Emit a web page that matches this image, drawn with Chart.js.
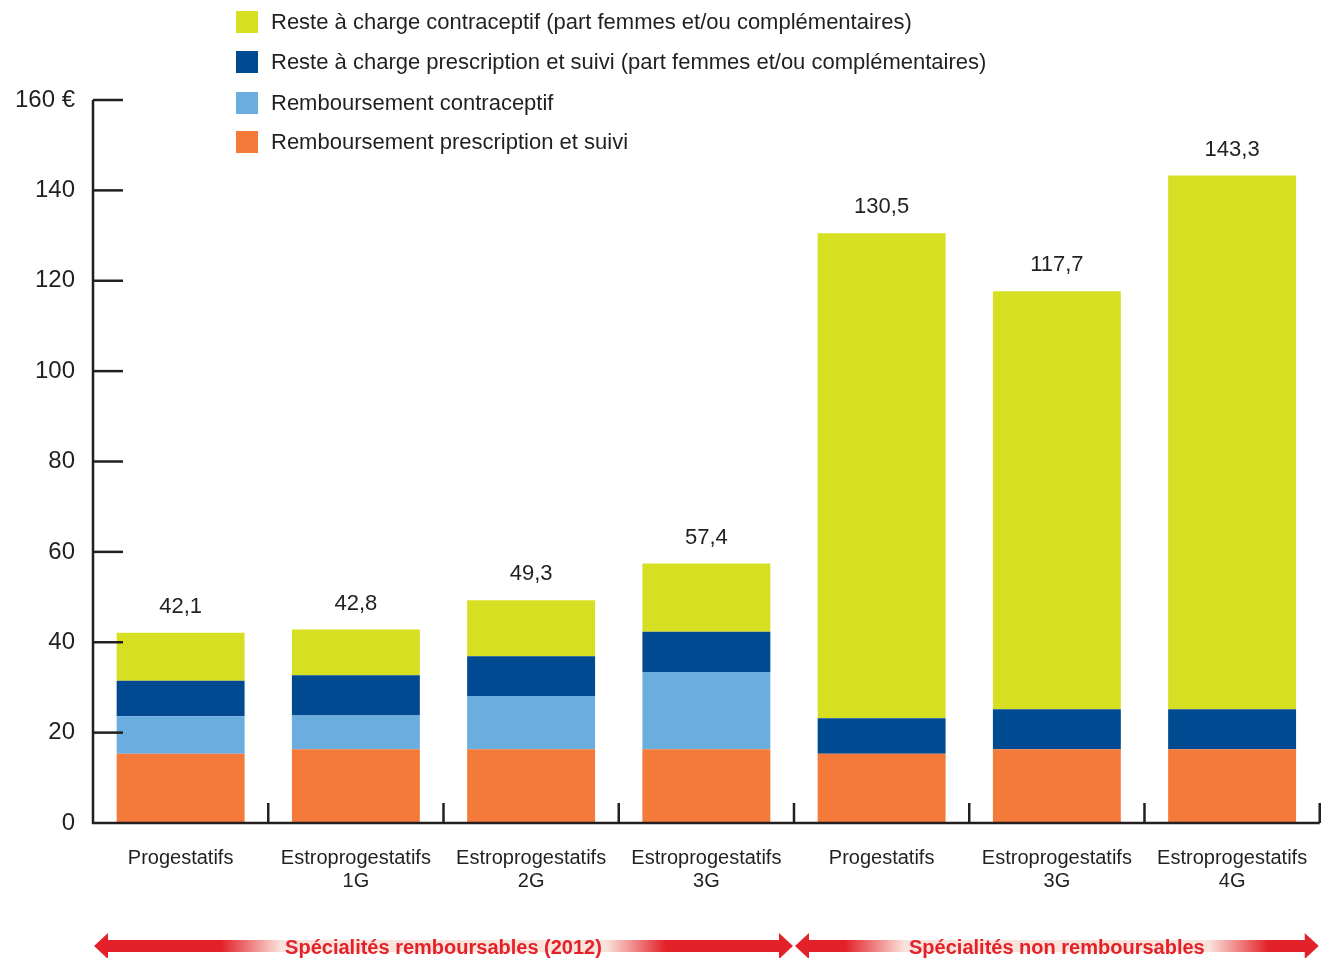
<!DOCTYPE html>
<html lang="fr">
<head>
    <meta charset="UTF-8">
    <title>Coût des contraceptifs</title>
    <script src="https://cdn.jsdelivr.net/npm/chart.js"></script>
    <style>
        html, body { margin: 0; padding: 0; background: #fff; }
        #wrap { position: relative; width: 1332px; height: 958px; }
    </style>
</head>
<body>
    <div id="wrap"><canvas id="chart" width="1332" height="958"></canvas></div>

    <script>
        // Data
        const categories = [
            'Progestatifs',
            ['Estroprogestatifs', '1G'],
            ['Estroprogestatifs', '2G'],
            ['Estroprogestatifs', '3G'],
            'Progestatifs',
            ['Estroprogestatifs', '3G'],
            ['Estroprogestatifs', '4G']
        ];
        const rembPrescription = [15.3, 16.3, 16.3, 16.3, 15.3, 16.3, 16.3];
        const rembContraceptif = [8.3, 7.5, 11.8, 17.1, 0, 0, 0];
        const restePrescription = [7.9, 8.9, 8.8, 8.9, 7.9, 8.9, 8.9];
        const resteContraceptif = [10.6, 10.1, 12.4, 15.1, 107.3, 92.5, 118.1];
        const totals = ['42,1', '42,8', '49,3', '57,4', '130,5', '117,7', '143,3'];
        const yTicks = [0, 20, 40, 60, 80, 100, 120, 140, 160];
        const groups = [
            { label: 'Spécialités remboursables (2012)', from: 0, to: 4 },
            { label: 'Spécialités non remboursables', from: 4, to: 7 }
        ];

        const colors = {
            yellow: '#d7df23',
            darkBlue: '#004a91',
            lightBlue: '#6aaddf',
            orange: '#f47a3a',
            red: '#e32128',
            ink: '#231f20'
        };

        const legendItems = [
            { text: 'Reste à charge contraceptif (part femmes et/ou complémentaires)', color: colors.yellow, y: 22 },
            { text: 'Reste à charge prescription et suivi (part femmes et/ou complémentaires)', color: colors.darkBlue, y: 62 },
            { text: 'Remboursement contraceptif', color: colors.lightBlue, y: 103 },
            { text: 'Remboursement prescription et suivi', color: colors.orange, y: 142 }
        ];

        const FONT = '"Liberation Sans", Arial, sans-serif';

        // custom drawing: axes, legend, totals, bottom arrows
        const decorations = {
            id: 'decorations',
            afterDatasetsDraw(chart) {
                const ctx = chart.ctx;
                const area = chart.chartArea;
                const y = chart.scales.y;
                ctx.save();

                // axes
                ctx.strokeStyle = colors.ink;
                ctx.lineWidth = 2.5;
                ctx.beginPath();
                ctx.moveTo(area.left, y.getPixelForValue(160));
                ctx.lineTo(area.left, area.bottom);
                ctx.lineTo(area.right, area.bottom);
                ctx.stroke();

                yTicks.forEach(v => {
                    if (v === 0) return;
                    const py = y.getPixelForValue(v);
                    ctx.beginPath();
                    ctx.moveTo(area.left, py);
                    ctx.lineTo(area.left + 30, py);
                    ctx.stroke();
                });

                const step = (area.right - area.left) / categories.length;
                for (let i = 1; i <= categories.length; i++) {
                    const px = area.left + step * i;
                    ctx.beginPath();
                    ctx.moveTo(px, area.bottom);
                    ctx.lineTo(px, area.bottom - 20);
                    ctx.stroke();
                }

                // totals above bars
                ctx.fillStyle = colors.ink;
                ctx.font = '22px ' + FONT;
                ctx.textAlign = 'center';
                ctx.textBaseline = 'middle';
                const meta = chart.getDatasetMeta(3);
                meta.data.forEach((bar, i) => {
                    ctx.fillText(totals[i], bar.x, bar.y - 26);
                });

                // legend
                ctx.textAlign = 'left';
                ctx.font = '22px ' + FONT;
                legendItems.forEach(item => {
                    ctx.fillStyle = item.color;
                    ctx.fillRect(236, item.y - 11, 22, 22);
                    ctx.fillStyle = colors.ink;
                    ctx.fillText(item.text, 271, item.y + 1);
                });

                // bottom arrows
                const ay = 946;
                groups.forEach(g => {
                    const x0 = area.left + step * g.from + 1;
                    const x1 = area.left + step * g.to - 1;
                    const cx = (x0 + x1) / 2;
                    ctx.font = 'bold 20px ' + FONT;
                    const tw = ctx.measureText(g.label).width;
                    const t0 = cx - tw / 2 - 4;
                    const t1 = cx + tw / 2 + 4;
                    const grad = ctx.createLinearGradient(x0, 0, x1, 0);
                    const f = v => Math.min(1, Math.max(0, (v - x0) / (x1 - x0)));
                    grad.addColorStop(0, colors.red);
                    grad.addColorStop(f(t0 - 60), colors.red);
                    grad.addColorStop(f(t0), '#fbe3dd');
                    grad.addColorStop(f(t1), '#fbe3dd');
                    grad.addColorStop(f(t1 + 60), colors.red);
                    grad.addColorStop(1, colors.red);
                    ctx.fillStyle = grad;
                    ctx.beginPath();
                    ctx.moveTo(x0, ay);
                    ctx.lineTo(x0 + 14, ay - 13);
                    ctx.lineTo(x0 + 14, ay - 6);
                    ctx.lineTo(x1 - 14, ay - 6);
                    ctx.lineTo(x1 - 14, ay - 13);
                    ctx.lineTo(x1, ay);
                    ctx.lineTo(x1 - 14, ay + 13);
                    ctx.lineTo(x1 - 14, ay + 6);
                    ctx.lineTo(x0 + 14, ay + 6);
                    ctx.lineTo(x0 + 14, ay + 13);
                    ctx.closePath();
                    ctx.fill();
                    ctx.fillStyle = colors.red;
                    ctx.textAlign = 'center';
                    ctx.fillText(g.label, cx, ay + 2);
                });

                ctx.restore();
            }
        };

        const barOpts = { borderWidth: 0, barPercentage: 0.73, categoryPercentage: 1 };

        new Chart(document.getElementById('chart'), {
            type: 'bar',
            data: {
                labels: categories,
                datasets: [
                    Object.assign({ label: 'Remboursement prescription et suivi', data: rembPrescription, backgroundColor: colors.orange }, barOpts),
                    Object.assign({ label: 'Remboursement contraceptif', data: rembContraceptif, backgroundColor: colors.lightBlue }, barOpts),
                    Object.assign({ label: 'Reste à charge prescription et suivi', data: restePrescription, backgroundColor: colors.darkBlue }, barOpts),
                    Object.assign({ label: 'Reste à charge contraceptif', data: resteContraceptif, backgroundColor: colors.yellow }, barOpts)
                ]
            },
            options: {
                responsive: false,
                animation: false,
                layout: { padding: { top: 100, right: 12, left: 0, bottom: 0 } },
                plugins: {
                    legend: { display: false },
                    tooltip: { enabled: false }
                },
                scales: {
                    x: {
                        stacked: true,
                        grid: { display: false, drawTicks: false },
                        border: { display: false },
                        ticks: {
                            color: colors.ink,
                            font: { family: FONT, size: 20, lineHeight: 1.15 },
                            padding: 24,
                            maxRotation: 0,
                            autoSkip: false
                        },
                        afterFit(scale) { scale.height = 135; }
                    },
                    y: {
                        stacked: true,
                        min: 0,
                        max: 160,
                        grid: { display: false, drawTicks: false },
                        border: { display: false },
                        afterBuildTicks(scale) {
                            scale.ticks = yTicks.map(v => ({ value: v }));
                        },
                        ticks: {
                            color: colors.ink,
                            font: { family: FONT, size: 24 },
                            padding: 18,
                            callback: v => v === 160 ? '160 €' : String(v)
                        },
                        afterFit(scale) { scale.width = 93; }
                    }
                }
            },
            plugins: [decorations]
        });
    </script>
</body>
</html>
